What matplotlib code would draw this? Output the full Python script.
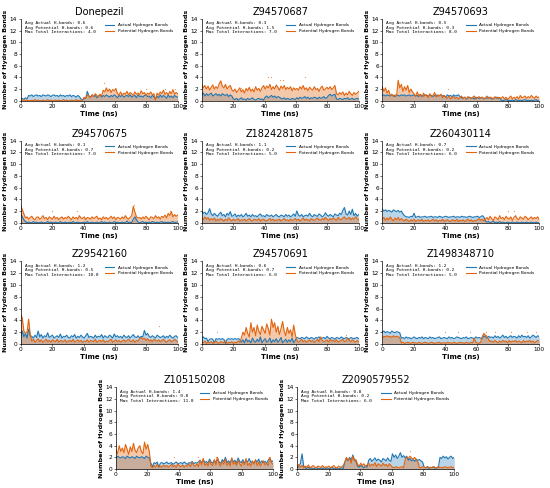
import numpy as np
import matplotlib
matplotlib.use("Agg")
import matplotlib.pyplot as plt

names = ["Donepezil", "Z94570687", "Z94570693", "Z94570675", "Z1824281875", "Z260430114",
         "Z29542160", "Z94570691", "Z1498348710", "Z105150208", "Z2090579552"]
avg_actual = [0.6, 0.3, 0.5, 0.1, 1.1, 0.7, 1.2, 0.6, 1.2, 1.4, 0.8]
avg_potential = [0.6, 1.5, 0.3, 0.7, 0.2, 0.2, 0.5, 0.7, 0.2, 0.8, 0.2]
max_total = [4.0, 7.0, 8.0, 7.0, 5.0, 6.0, 10.0, 6.0, 5.0, 11.0, 6.0]

actual_1 = ([0.3,0.4,0.2,0.5,0.3]
 + [0.9,0.8,1.0,0.7,0.9,1.0,0.8,0.9,0.7,1.0,0.9,0.8,1.0,0.9,0.7,0.9,1.0,0.8,0.9,0.7,1.0,0.8,0.9,0.7,0.9,0.8,1.0,0.7,0.9,0.8,0.6,0.9,0.7]
 + [0.3,0.2,0.3,0.4,1.6]
 + [0.8,0.6,1.0,0.7,0.9,0.5,0.8,1.0,0.6,0.9,0.7,1.0,0.8,0.6,0.9,0.7,1.0,0.8,0.5,0.9,0.7,1.0,0.6,0.8,0.9,0.7,1.0,0.6,0.8,0.9,0.5,1.0,0.7,0.8,0.6,0.9,1.0,0.7,0.8,0.5,0.9,0.7]
 + [0.3,0.8,0.5,1.0,0.6,0.9,0.7,0.4,1.0,0.6,0.8,0.5,0.9,0.7,0.6])
potential_1 = ([0.1,0,0.2,0,0.1,0,0,0.1,0,0.2,0,0.1,0,0,0.1,0,0,0.2,0,0.1,0,0,0.1,0,0.1,0,0,0.2,0,0.1,0,0,0.1,0,0,0.2,0,0.1,0,0]
 + [0.6,0.4,1.0,0.8,0.5,1.0,0.7,1.2,0.9,0.6,1.1,0.8]
 + [1.8,1.5,2.2,1.6,2.0,1.4,1.9,1.7,2.1]
 + [1.2,1.0,1.5,0.9,1.3,1.1,1.6,1.0,1.4,1.2,0.9,1.5,1.1,1.3,1.0,1.7,1.2,1.4,0.9,1.3,1.1,1.5,1.0,1.2]
 + [0.1,1.3,1.0,1.5,1.2,1.8,1.1,1.4,1.0,1.6,1.2,1.9,1.1,1.4,1.2])

actual_2 = [1.0,1.3,0.8,1.2,0.9,1.1,1.3,0.8,1.0,1.2,0.9,1.1,0.8,1.2,1.0,0.9,1.1,0.7,1.0,0.8,
 0.3,0.2,0.4,0.1,0.3,0.5,0.2,0.3,0.1,0.4,0.2,0.3,0.5,0.2,0.1,0.3,0.4,0.2,0.3,0.1,
 0.6,0.8,0.5,0.7,0.9,0.6,0.8,0.5,0.7,0.6,0.4,0.3,0.5,0.2,0.4,0.3,0.2,0.4,0.3,0.2,
 0.5,0.3,0.6,0.4,0.5,0.7,0.4,0.6,0.3,0.5,0.4,0.6,0.5,0.3,0.6,0.4,0.5,0.7,0.4,0.5,
 0.9,1.1,0.8,1.0,1.1,0.3,0.2,0.4,0.3,0.2,0.4,0.3,0.5,0.2,0.3,0.4,0.2,0.3,0.4,0.3]
potential_2 = [2.8,2.2,2.6,2.0,2.5,1.8,2.3,2.7,2.0,2.4,2.1,2.9,3.4,2.5,2.2,2.8,2.0,2.4,2.6,1.9,
 1.6,2.0,1.4,1.8,2.2,1.5,1.9,1.3,2.1,1.7,2.3,1.6,2.0,1.5,2.4,1.8,2.1,1.6,2.2,2.6,
 2.0,2.5,2.2,2.8,1.9,2.4,2.0,2.7,2.3,1.8,2.5,2.1,2.6,1.9,2.3,2.0,2.4,1.7,2.2,1.9,
 2.1,1.8,2.4,2.0,2.6,1.9,2.2,1.7,2.3,2.0,1.8,2.4,1.9,2.1,1.6,2.2,2.5,1.8,2.0,2.3,
 2.0,2.4,1.9,2.2,2.6,1.2,1.0,1.4,1.1,1.5,0.9,1.3,1.0,1.6,1.2,0.9,1.4,1.1,1.3,1.6]

actual_3 = ([0.9,1.0,0.8,1.0,0.9,0.8,1.0,0.9,0.7,1.0,0.9,0.8,1.0,0.9,1.0,0.8,0.9,1.0,0.8,0.9,1.0,0.8,0.9,0.7,1.0,0.9,0.8,1.0,0.9,0.8,1.0,0.9,0.7,0.9,1.0,0.8,0.9,1.0,0.8,0.9,0.6,1.0,0.8,0.9,0.7,1.0,0.8,0.9,1.0,0.7]
 + [0.5,0.4,0.6,0.3,0.5,0.6,0.4,0.5,0.3,0.6,0.5,0.4,0.5,0.6,0.3,0.5,0.4,0.6,0.5,0.3,0.4,0.5,0.6,0.4,0.5]
 + [0.1,0,0.1,0.2,0,0.1,0,0.1,0,0.2,0.1,0,0.1,0,0.1,0.2,0,0.1,0,0.1,0,0.1,0.2,0,0.1])
potential_3 = ([2.4,1.6,2.2,1.3,1.8,0.9,1.1,0.7,1.0,0.8]
 + [3.5,2.2,2.8,1.6,2.4,1.8,2.6,1.4,2.0,1.5]
 + [1.2,0.7,1.5,0.9,1.1,0.6,1.3,0.8,1.0,0.5,1.2,0.7,0.9,1.4,0.6,1.0,0.8,1.1,0.5,0.9]
 + [0.6,0.4,0.8,0.3,0.5,0.7,0.4,0.6,0.3,0.5,0.8,0.4,0.6,0.3,0.7,0.5,0.4,0.6,0.8,0.3,0.5,0.7,0.4,0.6,0.3,0.5,0.8,0.4,0.6,0.5,0.3,0.7,0.4,0.6,0.5]
 + [0.4,0.7,0.3,0.6,0.2,0.5,0.8,0.3,0.6,0.4,0.7,0.3,0.9,0.5,0.6,0.8,0.4,0.7,0.5,0.9,0.6,0.4,0.8,0.5,0.7])

actual_4 = ([1.5,1.0,0.5,0.2]
 + [0,0.1,0,0,0.2,0,0.1,0,0,0.1,0,0,0,0.2,0,0.1,0,0,0.1,0,0,0.2,0,0,0.1,0,0,0.1,0,0.2,0,0,0.1,0,0,0,0.1,0,0.2,0,0,0.1,0,0,0.1,0,0,0.2,0,0.1,0,0,0.1,0,0,0.2,0,0.1,0,0,0.1,0,0,0.3,0,0.1,0]
 + [0.6,1.0,0.5]
 + [0.1,0,0.1,0.2,0,0.1,0,0.1,0,0.2,0.1,0,0.1,0,0.1,0.2,0,0.1,0,0.1,0,0.1,0.2,0,0.1,0.1])
potential_4 = ([3.0,2.2,1.5]
 + [0.8,1.0,0.6,0.9,1.1,0.7,0.5,0.9,1.0,0.6,0.8,1.2,0.7,0.9,0.5,1.0,0.8,0.6,1.1,0.7,0.9,0.5,0.8,1.0,0.6,0.9,0.7,1.1,0.8,0.5,1.0,0.7,0.9,0.6,1.2,0.8,0.7,1.0,0.5,0.9,0.8,0.6,1.0,0.7,0.9,1.1,0.6,0.8,0.5,1.0,0.7,0.9,0.6,0.8,1.1,0.7,1.0,0.5,0.9,0.8,0.6,1.0,0.7,1.2,0.8,0.6,0.9]
 + [1.2,2.8,1.8,1.0,0.8]
 + [0.9,0.6,1.0,0.7,1.1,0.8,0.5,1.0,0.9,0.7,1.2,0.8,1.0,0.6,1.1,0.9,1.3,0.8,1.6,1.2,1.9,1.0,1.4,1.1,1.3])

actual_5 = [2.0,1.6,1.8,1.4,1.7,2.4,1.5,1.2,1.6,1.3,1.1,1.5,1.8,1.2,1.4,1.0,1.6,1.3,1.9,1.1,
 1.2,1.5,1.0,1.3,1.1,1.4,1.0,1.2,1.6,1.1,1.3,1.0,1.4,1.1,1.2,1.0,1.3,1.5,1.1,1.2,
 1.0,1.4,1.2,1.1,1.3,1.0,1.2,1.4,1.1,1.0,1.3,1.2,1.0,1.4,1.1,1.3,1.0,1.2,1.5,1.1,
 2.0,1.3,1.1,1.4,1.0,1.2,1.3,1.1,1.6,1.2,1.0,1.4,1.2,1.1,1.5,1.3,1.0,1.2,1.7,1.3,
 1.1,1.4,1.2,1.0,1.5,1.3,1.2,1.6,1.4,2.1,2.6,1.5,1.3,2.0,1.4,2.3,1.2,1.6,1.1,1.4]
potential_5 = [0.8,0.5,1.0,0.6,0.9,0.4,0.7,0.5,0.8,0.3,0.6,0.4,0.7,0.5,0.3,0.6,0.4,0.8,0.5,0.3,
 0.6,0.4,0.5,0.7,0.3,0.5,0.4,0.6,0.3,0.5,0.7,0.4,0.3,0.6,0.5,0.4,0.7,0.3,0.5,0.6,
 0.4,0.3,0.5,0.7,0.4,0.6,0.3,0.5,0.4,0.6,0.3,0.5,0.7,0.4,0.5,0.3,0.6,0.4,0.5,0.7,
 0.4,0.6,0.3,0.5,0.8,0.4,0.6,0.5,0.3,0.7,0.5,0.4,0.6,0.8,0.5,0.4,0.7,0.5,0.9,0.6,
 0.4,0.7,0.5,0.8,0.6,0.4,0.9,0.6,0.5,0.8,1.0,0.6,0.7,0.9,0.5,0.8,0.6,1.0,0.7,0.5]

actual_6 = ([2.3,2.0,2.2,1.9,2.1,2.0,1.8,2.2,2.0,1.9,2.1,1.8,2.0]
 + [1.5,1.2,1.0]
 + [1.0,0.9,1.1,1.0,1.6,0.9,1.0,1.1,0.9,1.0,1.0,1.1,0.9,1.0,1.0,1.1,0.9,1.0,1.0,0.9,1.1,1.0,0.9,1.0,1.1,1.0,0.9,1.0,1.0,1.1,0.9,1.0,1.0,0.9,1.1,1.0,1.0,0.9,1.0,1.1,1.0,0.9,1.0,1.0,1.1,0.9,1.0,1.2,1.0]
 + [0.3,0.1,0.2,0,0.1,0.3,0,0.1,0,0.2,0,0.1,0,0,0.1,0,0,0.1,0,0,0.1,0,0,0.1,0,0,0.1,0,0,0.1,0,0,0.1,0,0])
potential_6 = ([0.6,0.9,0.4,0.8,0.5,1.0,0.6,0.3,0.8,0.5,0.9,0.4,0.7,0.5,0.3,0.6,0.4,0.2,0.5,0.3,0.6,0.2,0.4,0.5,0.3,0.6,0.2,0.4,0.3,0.5,0.2,0.4,0.6,0.3,0.5,0.2,0.4,0.3,0.6,0.2,0.4,0.5,0.3,0.2,0.5,0.4,0.3,0.6,0.2,0.4,0.3,0.5,0.2,0.4,0.6,0.3,0.5,0.2,0.4,0.3,0.5,0.7,0.4,0.6,0.3]
 + [0.6,0.9,0.5,1.1,0.7,0.4,1.0,0.8,0.5,1.2,0.7,0.9,0.5,1.1,0.8,0.6,1.0,0.4,0.9,1.2,0.7,0.5,1.0,0.8,0.6,1.1,0.9,0.5,0.8,1.0,0.6,0.9,0.7,1.0,0.5])

actual_7 = ([1.0,2.2,1.2,1.8,1.0,2.5,1.4]
 + [1.3,1.0,1.5,1.1,2.2,1.2,1.6,1.0,1.4,1.2,1.9,1.1,1.3,1.5,1.0,1.2,1.4,1.1,1.7,1.0,1.3,1.2,1.5,1.1,1.0,1.4,1.2,1.6,1.0,1.3,1.1,1.5,1.2,1.0,1.4,1.8,1.1,1.3,1.2,1.0,1.5,1.1,1.3,1.2,1.6,1.0,1.4,1.2,1.1,1.5,1.3,1.0,1.7,1.2,1.4,1.1,1.3,1.0,1.5,1.2,1.1,1.4,1.0,1.3,1.6,1.2,1.1,1.4,1.0,1.3,1.2,2.3,1.5,1.8,1.3,1.1,1.4,1.2,1.0,1.5,1.3,1.1,1.2,1.4,1.0,1.3,1.1,1.5,1.2,1.0,1.3,1.4,1.1])
potential_7 = ([5.0,4.4,2.2,1.8,2.0,4.2,1.6]
 + [0.5,0.8,0.3,0.6,0.9,0.4,0.7,0.3,0.5,0.8,0.4,0.6,0.3,0.7,0.5,0.4,0.8,0.3,0.6,0.5,0.4,0.7,0.3,0.5,0.6,0.4,0.8,0.3,0.5,0.7,0.4,0.6,0.3,0.5,0.4,0.7,0.3,0.6,0.5,0.4,0.8,0.3,0.5,0.6,0.4,0.7,0.3,0.5,0.4,0.6,0.8,0.3,0.5,0.7,0.4,0.6,0.3,0.5,0.7,0.4,0.6,0.8,0.5,0.4,0.7,0.3,0.6,0.5,0.9,1.1,0.8,1.0,0.6,0.9,0.5,0.7,0.4,0.8,0.6,0.5,0.7,0.4,0.6,0.8,0.5,0.3,0.6,0.7,0.4,0.5,0.8,0.6,0.4])

actual_8 = ([1.0,1.2,0.9,1.0,0.4]
 + [0.8,0.9,0.8,0.2,0.9,0.8,0.9,0.8,0.9,0.8,0.1,0.8,0.9,0.8,0.9,0.8,0.9,0.8,0.9,0.8]
 + [0.3,0.7,0.2,0.9,0.4,0.6,0.2,1.0,0.5,0.3,0.8,0.4,1.2,0.2,0.6,0.9,0.3,0.5,1.0,0.2,0.7,0.4,0.9,0.3,0.6,1.1,0.2,0.5,0.8,0.3,0.7,0.4,1.0,0.2,0.6]
 + [1.1,1.0,0.9,1.1,1.0,0.9,1.2,1.0,0.9,1.1,1.0,0.8,1.1,1.0,1.2,0.9,1.0,1.1,0.9,1.3,1.0,0.9,1.1,1.0,0.8,1.1,1.0,0.9,1.2,1.0,0.9,1.1,1.0,0.8,1.1,1.0,0.9,1.0,1.1,0.9])
potential_8 = ([0.4,0.2,0.5,0.1,0.3,0.2,0.4,0.1,0.3,0.5,0.2,0.1,0.4,0.3,0.2,0.5,0.1,0.3,0.2,0.4,0.1,0.3,0.2,0.5,0.3]
 + [1.0,2.0,1.5,2.8,1.8,1.2,3.6,2.0,2.8,1.4,3.2,2.2,1.6,3.0,2.4,1.8,3.4,2.6,1.5,4.2,2.8,3.6,2.0,3.0,1.6,2.6,3.8,2.2,1.4,2.8,1.8,2.4,1.2,3.2,1.6]
 + [0.6,0.3,0.5,0.8,0.4,0.6,0.3,0.5,0.7,0.4,0.6,0.3,0.5,0.8,0.4,1.2,0.6,0.4,0.5,0.7,0.3,0.8,0.5,0.6,0.4,0.7,0.3,0.5,0.6,0.8,0.4,0.5,1.0,0.6,0.4,0.7,0.5,0.3,0.6,0.4])

actual_9 = ([2.0,2.2,1.9,2.1,2.0,1.8,2.2,2.0,1.9,2.1,2.0,1.9]
 + [1.0,1.1,0.9,1.2,1.0,1.1,0.9,1.0,1.2,1.0,0.9,1.1,1.0,1.2,0.9,1.1,1.0,0.9,1.2,1.0,1.1,0.9,1.0,1.1,1.2,0.9,1.0,1.1,1.0,0.9,1.2,1.0,1.1,0.9,1.0,1.2,1.1,1.0,0.9,1.1,1.0,1.2,0.9,1.0,1.1,1.0,0.9,1.2,1.0,1.1,1.0,0.9,1.4,1.2,1.0,1.3,1.1,1.2,1.0,1.4,1.1,1.3,1.0,1.2,1.5,1.1,1.3,1.0,1.2,1.4,1.1,1.3,1.2,1.0,1.4,1.1,1.5,1.2,1.3,1.1,1.4,1.0,1.2,1.5,1.3,1.1,1.4,1.2])
potential_9 = ([1.0,1.3,1.2,1.4,1.2,1.3,1.1,1.4,1.2,1.3,1.2,1.1]
 + [0.2,0.3,0.1,0.2,0.3,0.2,0.1,0.3,0.2,0.2,0.1,0.3,0.2,0.1,0.2,0.3,0.2,0.1,0.2,0.3,0.2,0.1,0.2,0.2,0.3,0.1,0.2,0.2,0.1,0.3,0.2,0.2,0.1,0.3,0.2,0.1,0.2,0.3,0.2,0.2,0.1,0.3,0.2,0.1,0.3,0.2,1.0,0.3,0.2,0.1,0.3]
 + [1.2,1.8,1.5,1.3,0.8,0.4]
 + [0.5,0.3,0.6,0.4,0.2,0.5,0.3,0.6,0.4,0.5,0.2,0.6,0.3,0.5,0.4,0.6,0.3,0.5,0.4,0.2,0.6,0.3,0.5,0.4,0.6,0.3,0.5,0.2,0.4,0.6,0.5])

actual_10 = ([1.8,2.2,2.0,1.9,2.1,2.0,1.8,2.2,2.0,1.9,2.1,2.0,1.8,2.2,2.0,1.9,2.1,2.0,1.8,2.2,2.0,1.9]
 + [1.0,0.4,1.1,0.9,1.2,0.3,1.0,1.1,0.9,1.0,1.2,0.9,1.0,1.1,0.8,1.0,1.2,0.9,1.0,1.1,0.9,1.2,1.0,0.8,1.1,1.0,1.3,0.9,1.1,1.0,1.2,1.5,1.0,1.6,1.1,1.3,1.0,1.7,1.2,1.0,1.5,1.1,1.8,1.2,1.0,1.6,1.3,2.0,1.1,1.4,1.0,1.8,1.2,1.5,1.0,1.9,1.3,1.1,1.6,1.0,1.4,1.2,1.8,1.1,1.3,1.0,1.5,1.2,1.7,1.0,1.4,1.1,1.3,1.0,1.5,1.9,1.2,1.4])
potential_10 = ([3.2,2.6,4.0,3.0,3.6,2.8,4.2,3.4,2.5,3.8,3.0,4.4,3.2,2.8,3.6,4.0,3.0,2.6,4.6,3.4,4.2,3.0]
 + [0.5,0.2,0.6,0.3,0.8,0.4,0.5,0.3,0.7,0.4,0.6,0.3,0.5,0.8,0.4,0.6,0.3,0.9,0.5,0.4,0.7,0.3,0.6,0.5,0.8,0.4,1.2,0.6,0.5,0.9,0.4,1.5,0.7,1.8,0.6,1.0,0.5,1.4,0.8,0.6,1.6,0.7,2.0,0.9,0.5,1.3,0.8,1.7,0.6,1.1,0.5,1.9,0.8,1.2,0.6,1.5,0.9,0.5,1.3,0.7,1.8,0.6,1.0,0.5,1.4,0.8,1.6,0.6,1.2,0.5,0.9,1.4,0.7,1.0,0.6,2.0,1.1,0.8])

actual_11 = ([0.2,0.4,1.0,2.6,0.5,0.2,0.1,0.3,0.1,0.2,0,0.1,0.3,0.1,0,0.2,0.1,0,0.1,0.2,0,0.1,0.3,0,0.1,0.2,0,0.1,0.2,0.1]
 + [1.2,1.8,1.4,2.0,1.5,2.4,1.6,1.3]
 + [0.5,0.3,0.6,0.4,0.2,0.5,0.3]
 + [1.5,1.8,1.3,1.6,1.9,1.4,1.7,1.5,1.2,1.8,1.6,1.4,1.9,1.5,1.3]
 + [2.6,2.0,2.4,1.8,2.2,2.8,2.0,2.3,1.9,2.2]
 + [1.5,1.8,1.4,1.6,1.3,1.7,1.5,1.6,1.4,1.2]
 + [0.3,0.2,0.4,0.1,0.3,0.2,0.4,0.1,0.2,0.3]
 + [2.0,1.8,2.2,1.9,2.1,1.7,2.0,2.2,1.8,2.0])
potential_11 = ([0.4,0.8,0.3,0.6,0.2,0.5,0.3,0.7,0.2,0.4,0.6,0.3,0.2,0.5,0.4,0.3,0.6,0.2,0.4,0.3,0.5,0.2,0.4,0.6,0.3,0.2,0.5,0.3,0.4,0.6]
 + [1.2,2.0,1.5,1.8,1.0,2.2,1.4,1.6]
 + [0.8,0.5,1.0,0.6,0.9,0.4,0.7,1.0,0.5,0.8,0.6,1.1,0.4,0.9,0.7,0.5,1.0,0.6,0.8,0.4,0.9,0.6]
 + [0.3,0.2,0.4,0.3,0.2,0.3,0.4,0.2]
 + [1.6,2.0,1.8,2.2,1.9,1.7,2.0,1.5,1.2]
 + [0.3,0.2,0.4,0.3,0.2,0.4,0.3,0.2,0.3,0.4,0.2,0.3,0.4,0.2,0.3,0.2,0.4,0.3,0.2,0.3,0.4,0.2,0.3])

actuals = [actual_1, actual_2, actual_3, actual_4, actual_5, actual_6,
           actual_7, actual_8, actual_9, actual_10, actual_11]
potentials = [potential_1, potential_2, potential_3, potential_4, potential_5, potential_6,
              potential_7, potential_8, potential_9, potential_10, potential_11]

# sparse outlier points (time, value)
dots_t = [[53, 80, 92, 98], [25, 42, 44, 50, 52, 66], [42], [20, 36, 72, 95], [], [20, 80, 84],
          [5, 88], [10, 92], [40, 48, 56, 66, 72, 82, 92, 98], [37, 52, 64], [72]]
dots_v = [[3.0, 2.0, 2.0, 2.0], [2.2, 4.0, 4.0, 3.6, 3.6, 4.0], [2.0], [2.0, 2.0, 3.0, 2.0], [], [1.6, 2.0, 2.0],
          [2.0, 3.0], [2.0, 1.5], [2.0, 2.0, 2.0, 2.0, 2.0, 2.0, 2.0, 2.0], [2.0, 2.0, 2.0], [3.0]]

x_ticks = [0, 20, 40, 60, 80, 100]
y_ticks = [0, 2, 4, 6, 8, 10, 12, 14]

BLUE = "#1f77b4"
ORANGE = "#e2640e"

W, H = 550, 488
fig = plt.figure(figsize=(W / 100, H / 100), dpi=100)

col_left = [20.7, 201.7, 382.3]
rows = [(19, 100.7), (140.7, 222.7), (261.3, 344.0), (387.3, 469.0)]
last_left = [116.0, 297.3]
aw = 157.0

positions = []
for r in range(3):
    for c in range(3):
        positions.append((col_left[c], rows[r]))
for c in range(2):
    positions.append((last_left[c], rows[3]))

for i, name in enumerate(names):
    lx, (top, bot) = positions[i]
    ax = fig.add_axes([lx / W, 1 - bot / H, aw / W, (bot - top) / H])
    a = np.array(actuals[i], dtype=float)
    p = np.array(potentials[i], dtype=float)
    xa = np.linspace(0, 100, len(a))
    xp = np.linspace(0, 100, len(p))
    ax.fill_between(xa, 0, a, color=BLUE, alpha=0.3, lw=0)
    ax.plot(xa, a, color=BLUE, lw=0.8, label="Actual Hydrogen Bonds")
    ax.fill_between(xp, 0, p, color=ORANGE, alpha=0.35, lw=0)
    ax.plot(xp, p, color=ORANGE, lw=0.8, label="Potential Hydrogen Bonds")
    if dots_t[i]:
        ax.scatter(dots_t[i], dots_v[i], s=0.8, color=ORANGE, alpha=0.7, lw=0)
    ax.set_xlim(0, 100)
    ax.set_ylim(0, 14)
    ax.set_xticks(x_ticks)
    ax.set_yticks(y_ticks)
    ax.tick_params(labelsize=4.2, length=1.5, width=0.4, pad=1)
    for s in ["top", "right"]:
        ax.spines[s].set_visible(False)
    for s in ["left", "bottom"]:
        ax.spines[s].set_linewidth(0.5)
    ax.set_title(name, fontsize=7, pad=3)
    ax.set_xlabel("Time (ns)", fontsize=5, fontweight="bold", labelpad=1)
    ax.set_ylabel("Number of Hydrogen Bonds", fontsize=4.6, fontweight="bold", labelpad=1)
    txt = (f"Avg Actual H-bonds: {avg_actual[i]:.1f}\n"
           f"Avg Potential H-bonds: {avg_potential[i]:.1f}\n"
           f"Max Total Interactions: {max_total[i]:.1f}")
    ax.text(0.025, 0.97, txt, transform=ax.transAxes, va="top", ha="left",
            family="DejaVu Sans Mono", fontsize=3.2, linespacing=1.15)
    ax.legend(loc="upper right", bbox_to_anchor=(0.98, 0.97), fontsize=3.1, frameon=False,
              handlelength=2.2, borderaxespad=0.0, labelspacing=0.45, handletextpad=0.8)

fig.savefig("out.png", dpi=100)
